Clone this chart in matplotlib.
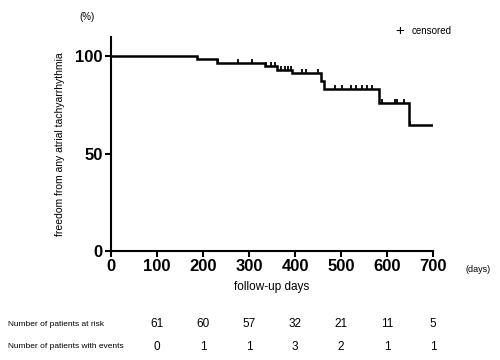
import matplotlib
matplotlib.use("Agg")
import matplotlib.pyplot as plt
import numpy as np

plt.rcParams['font.family'] = ['Liberation Sans', 'DejaVu Sans']

# KM step data
step_days = [0, 188, 230, 335, 361, 394, 456, 464, 582, 647]
step_surv = [100, 98.4, 96.7, 95.0, 93.2, 91.3, 87.4, 83.4, 75.8, 64.9]
end_day = 700
censor_days = [232, 276, 306, 338, 347, 356, 370, 378, 385, 392, 416, 424, 450,
               488, 502, 522, 532, 545, 556, 568, 590, 617, 622, 637, 650]

x_ticks = [0, 100, 200, 300, 400, 500, 600, 700]
y_ticks = [0, 50, 100]
table_days = [100, 200, 300, 400, 500, 600, 700]
at_risk = [61, 60, 57, 32, 21, 11, 5]
events = [0, 1, 1, 3, 2, 1, 1]

fig = plt.figure(figsize=(5, 3.6), dpi=100)
ax = fig.add_axes([0.222, 0.3028, 0.644, 0.595])

xs = step_days + [end_day]
ys = step_surv + [step_surv[-1]]
ax.step(xs, ys, where='post', color='black', lw=1.8, solid_joinstyle='miter')

def surv_at(t):
    v = step_surv[0]
    for d, s in zip(step_days, step_surv):
        if t >= d:
            v = s
    return v

cy = [surv_at(t) for t in censor_days]
ax.plot(censor_days, cy, linestyle='none', marker=2, markersize=3,
        markeredgewidth=1.3, color='black')

ax.set_xlim(0, 700)
ax.set_ylim(0, 110)
ax.set_xticks(x_ticks)
ax.set_yticks(y_ticks)
for lab in ax.get_xticklabels() + ax.get_yticklabels():
    lab.set_fontweight('bold')
ax.tick_params(axis='both', direction='out', length=4, width=1.5, labelsize=12, pad=2)
for s in ['top', 'right']:
    ax.spines[s].set_visible(False)
for s in ['left', 'bottom']:
    ax.spines[s].set_linewidth(1.5)

ax.set_ylabel('freedom from any atrial tachyarrhythmia', fontsize=7.5, labelpad=7)
ax.set_xlabel('follow-up days', fontsize=8.5, labelpad=5)

fig.text(0.956, 1 - 270 / 360, '(days)', fontsize=6.5, ha='center', va='center')
fig.text(0.175, 1 - 17 / 360, '(%)', fontsize=7, ha='center', va='center')

# legend
fig.text(0.80, 1 - 31 / 360, '+', fontsize=11, ha='center', va='center')
fig.text(0.824, 1 - 31 / 360, 'censored', fontsize=7, ha='left', va='center')

# number table
fig.text(0.015, 1 - 324 / 360, 'Number of patients at risk', fontsize=6, ha='left', va='center')
fig.text(0.015, 1 - 347 / 360, 'Number of patients with events', fontsize=6, ha='left', va='center')
for d, r, e in zip(table_days, at_risk, events):
    xf = 0.222 + 0.644 * d / 700
    fig.text(xf, 1 - 324 / 360, str(r), fontsize=8.5, ha='center', va='center')
    fig.text(xf, 1 - 347 / 360, str(e), fontsize=8.5, ha='center', va='center')

fig.savefig('out.png', dpi=100)
